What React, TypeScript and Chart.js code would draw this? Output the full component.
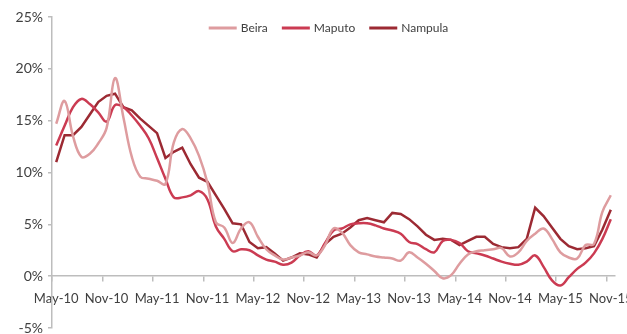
import React, { useEffect, useRef } from "react";
import { Chart, registerables } from "chart.js";

Chart.register(...registerables);

// Monthly categories, May-10 to Nov-15
const months: string[] = [
  "May-10", "Jun-10", "Jul-10", "Aug-10", "Sep-10", "Oct-10", "Nov-10", "Dec-10",
  "Jan-11", "Feb-11", "Mar-11", "Apr-11", "May-11", "Jun-11", "Jul-11", "Aug-11", "Sep-11", "Oct-11", "Nov-11", "Dec-11",
  "Jan-12", "Feb-12", "Mar-12", "Apr-12", "May-12", "Jun-12", "Jul-12", "Aug-12", "Sep-12", "Oct-12", "Nov-12", "Dec-12",
  "Jan-13", "Feb-13", "Mar-13", "Apr-13", "May-13", "Jun-13", "Jul-13", "Aug-13", "Sep-13", "Oct-13", "Nov-13", "Dec-13",
  "Jan-14", "Feb-14", "Mar-14", "Apr-14", "May-14", "Jun-14", "Jul-14", "Aug-14", "Sep-14", "Oct-14", "Nov-14", "Dec-14",
  "Jan-15", "Feb-15", "Mar-15", "Apr-15", "May-15", "Jun-15", "Jul-15", "Aug-15", "Sep-15", "Oct-15", "Nov-15",
];

// Year-on-year inflation, %
const beira: number[] = [
  14.7, 16.9, 13.5, 11.5, 11.8, 12.8, 14.3, 19.1, 15.3, 11.5, 9.6, 9.4,
  9.2, 8.9, 12.9, 14.2, 13.3, 11.6, 9.0, 5.2, 4.7, 3.2, 4.6, 5.2,
  3.8, 2.6, 2.0, 1.6, 1.8, 2.0, 2.3, 2.0, 3.0, 4.6, 4.2, 3.0,
  2.3, 2.1, 1.9, 1.8, 1.7, 1.5, 2.3, 1.8, 1.2, 0.5, -0.2, 0.1,
  1.2, 2.1, 2.4, 2.5, 2.6, 2.7, 1.9, 2.3, 3.4, 4.1, 4.6, 3.6,
  2.3, 1.8, 1.7, 3.0, 3.1, 6.2, 7.8,
];

const maputo: number[] = [
  12.6, 14.5, 16.3, 17.1, 16.6, 15.8, 14.9, 16.5, 16.3, 15.5, 14.5, 13.3,
  11.4, 9.4, 7.6, 7.6, 7.8, 8.2, 7.4, 4.8, 3.6, 2.4, 2.6, 2.5,
  2.0, 1.6, 1.4, 1.1, 1.3, 2.0, 2.4, 2.0, 3.2, 4.4, 4.6, 5.0,
  5.1, 5.1, 4.9, 4.6, 4.4, 4.1, 3.3, 3.1, 2.6, 2.3, 3.4, 3.5,
  3.2, 2.4, 2.2, 2.0, 1.7, 1.4, 1.2, 1.1, 1.4, 2.0, 0.9, -0.4,
  -0.9, -0.1, 0.7, 1.3, 2.2, 3.6, 5.5,
];

const nampula: number[] = [
  11.0, 13.6, 13.6, 14.4, 15.6, 16.8, 17.4, 17.6, 16.3, 16.0, 15.2, 14.5,
  13.8, 11.4, 12.0, 12.4, 10.8, 9.5, 9.1, 7.8, 6.5, 5.1, 5.0, 3.3,
  2.7, 2.8, 2.2, 1.5, 1.8, 2.2, 2.1, 1.8, 3.1, 3.8, 4.1, 4.7,
  5.4, 5.6, 5.4, 5.2, 6.1, 6.0, 5.5, 4.8, 4.0, 3.5, 3.6, 3.5,
  3.0, 3.4, 3.8, 3.8, 3.1, 2.8, 2.7, 2.8, 3.6, 6.6, 5.8, 4.7,
  3.6, 2.9, 2.6, 2.7, 2.9, 4.5, 6.4,
];

const seriesNames = ["Beira", "Maputo", "Nampula"];
const seriesColors = ["#DE9C9F", "#CB3B52", "#9C2A33"];

const yTicks = [-5, 0, 5, 10, 15, 20, 25];
const labelEvery = 6;

const FONT = "Lato, 'Open Sans', 'DejaVu Sans', sans-serif";
const TEXT = "#404040";
const AXIS = "#BDBDBD";

// Horizontal legend drawn inside the top of the plot area
const insideLegend = {
  id: "insideLegend",
  afterDraw(chart: any) {
    const { ctx, chartArea } = chart;
    const lineW = 28;
    const lineGap = 4;
    const itemGap = 14;
    ctx.save();
    ctx.font = `12px ${FONT}`;
    const items = chart.data.datasets.map((ds: any) => ({
      text: ds.label as string,
      color: ds.borderColor as string,
      w: ctx.measureText(ds.label).width,
    }));
    const total =
      items.reduce((s: number, it: any) => s + lineW + lineGap + it.w, 0) + itemGap * (items.length - 1);
    let x = (chartArea.left + chartArea.right) / 2 - 5 - total / 2;
    const y = chartArea.top + 11;
    ctx.textBaseline = "middle";
    ctx.textAlign = "left";
    for (const it of items) {
      ctx.fillStyle = it.color;
      ctx.fillRect(x, y - 1.5, lineW, 3);
      x += lineW + lineGap;
      ctx.fillStyle = TEXT;
      ctx.fillText(it.text, x, y);
      x += it.w + itemGap;
    }
    ctx.restore();
  },
};

export default function App() {
  const canvasRef = useRef<HTMLCanvasElement | null>(null);

  useEffect(() => {
    document.body.style.margin = "0";
    const canvas = canvasRef.current;
    if (!canvas) return;

    const values = [beira, maputo, nampula];
    const tensions = [0.4, 0.4, 0];

    const chart = new Chart(canvas, {
      type: "line",
      data: {
        labels: months,
        datasets: seriesNames.map((name, k) => ({
          label: name,
          data: values[k],
          borderColor: seriesColors[k],
          backgroundColor: seriesColors[k],
          borderWidth: 2.5,
          pointRadius: 0,
          pointHoverRadius: 0,
          tension: tensions[k],
          fill: false,
        })),
      },
      plugins: [insideLegend],
      options: {
        animation: false,
        responsive: false,
        maintainAspectRatio: false,
        layout: { padding: { top: 17, right: 12, bottom: 6, left: 0 } },
        plugins: {
          tooltip: { enabled: false },
          legend: { display: false },
        },
        scales: {
          x: {
            type: "category",
            position: { y: 0 },
            offset: true,
            border: { display: true, color: AXIS, width: 1.5 },
            grid: {
              offset: true,
              drawOnChartArea: false,
              drawTicks: true,
              tickLength: 5,
              lineWidth: 1.5,
              color: (ctx: any) =>
                ctx.index % labelEvery === 0 && ctx.index < months.length ? AXIS : "rgba(0,0,0,0)",
            },
            afterFit: (scale: any) => {
              scale.paddingLeft = 0;
              scale.paddingRight = 0;
              scale.paddingTop = 0;
              scale.paddingBottom = 0;
            },
            ticks: {
              autoSkip: false,
              maxRotation: 0,
              minRotation: 0,
              padding: 10,
              color: TEXT,
              font: { family: FONT, size: 13 },
              callback: (_v: any, i: number) => (i % labelEvery === 0 ? months[i] : ""),
            },
          },
          y: {
            min: -5,
            max: 25,
            border: { display: true, color: AXIS, width: 1.5 },
            grid: {
              drawOnChartArea: false,
              drawTicks: true,
              tickLength: 4,
              lineWidth: 1.5,
              color: AXIS,
            },
            afterBuildTicks: (scale: any) => {
              scale.ticks = yTicks.map((v) => ({ value: v }));
            },
            afterFit: (scale: any) => {
              scale.width = 52;
              scale.paddingTop = 0;
              scale.paddingBottom = 0;
            },
            ticks: {
              padding: 5,
              color: TEXT,
              font: { family: FONT, size: 14 },
              callback: (v: any) => `${v}%`,
            },
          },
        },
      },
    } as any);

    return () => chart.destroy();
  }, []);

  return (
    <div style={{ position: "absolute", left: 0, top: 0, width: 627, height: 334, background: "#fff" }}>
      <canvas ref={canvasRef} width={627} height={334} style={{ width: 627, height: 334 }} />
    </div>
  );
}
